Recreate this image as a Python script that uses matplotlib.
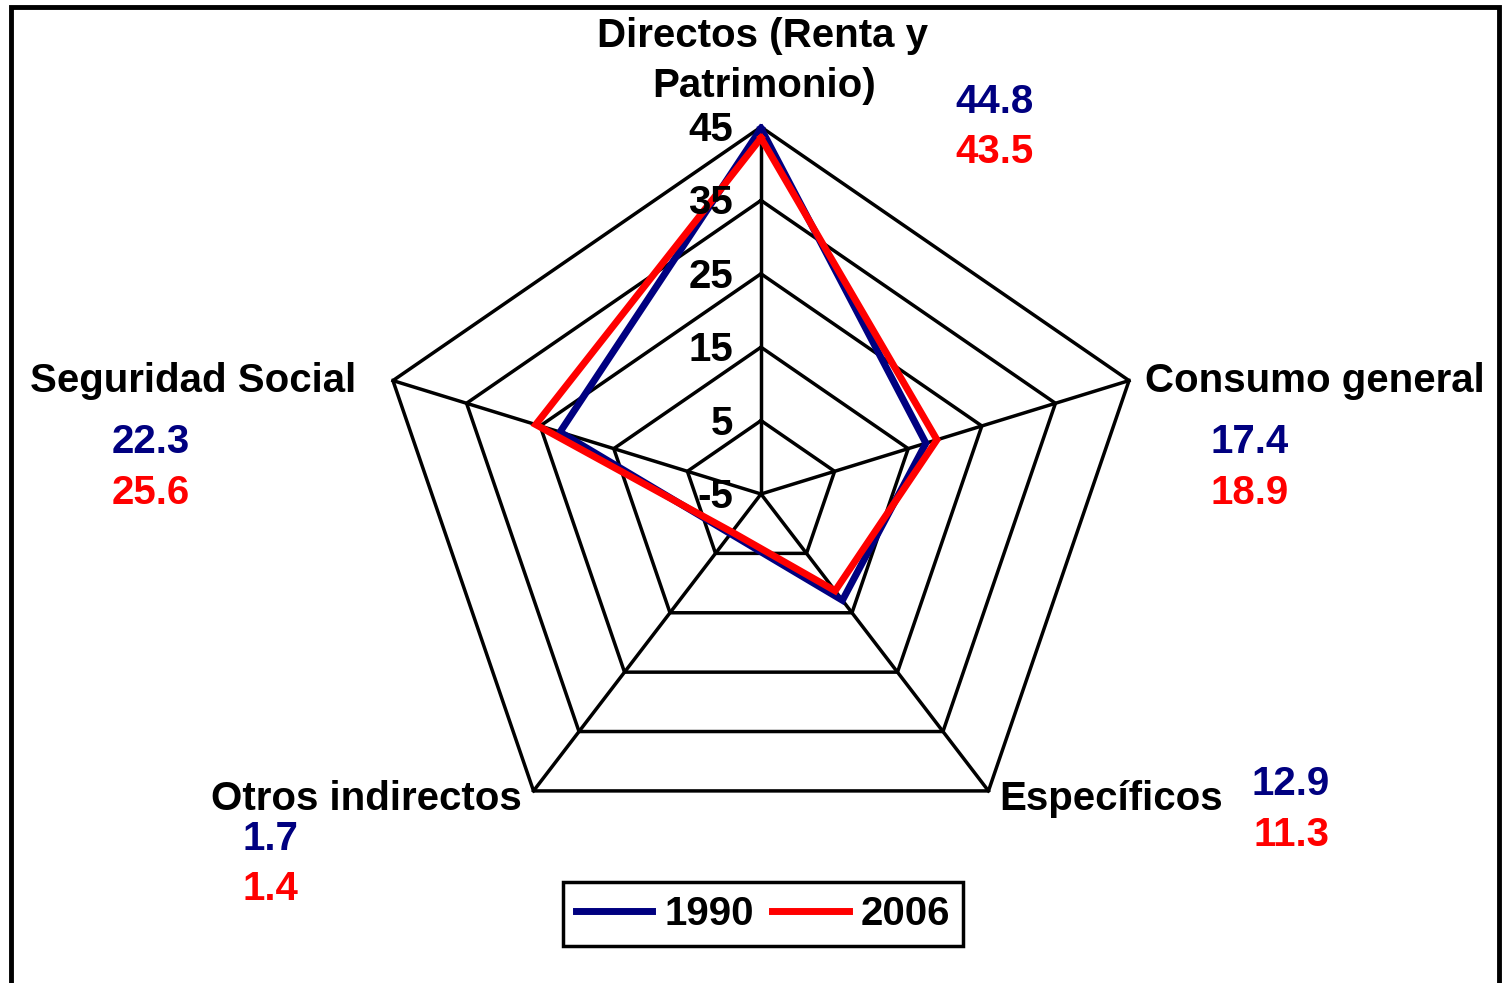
import numpy as np
import matplotlib
matplotlib.use("Agg")
import matplotlib.pyplot as plt
from matplotlib.patches import Rectangle
from matplotlib.lines import Line2D
import matplotlib.transforms as mtransforms

# ---- data ----
categories = ["Directos (Renta y\nPatrimonio)", "Consumo general", "Específicos",
              "Otros indirectos", "Seguridad Social"]
values_1990 = [44.8, 17.4, 12.9, 1.7, 22.3]
values_2006 = [43.5, 18.9, 11.3, 1.4, 25.6]
series_names = ["1990", "2006"]
ring_values = [-5, 5, 15, 25, 35, 45]

NAVY = "#000080"
RED = "#FF0000"
FONT = "Liberation Sans"
FS = 29

W, H = 1505, 983
fig = plt.figure(figsize=(W / 100, H / 100), dpi=100)
fig.patch.set_facecolor("white")

def fx(px):
    return px / W

def fy(py):
    return 1 - py / H

# radar axes: center (761,494), rx 387 px, ry 367 px
cx, cy, rx, ry = 761, 494, 387, 367
ax = fig.add_axes([fx(cx - rx), fy(cy + ry), 2 * rx / W, 2 * ry / H])
vmin, vmax = ring_values[0], ring_values[-1]
R = vmax - vmin
ax.set_xlim(-R, R)
ax.set_ylim(-R, R)
ax.axis("off")

n = len(categories)
theta = 2 * np.pi * np.arange(n) / n

def xy(vals):
    r = np.asarray(vals, dtype=float) - vmin
    x = r * np.sin(theta)
    y = r * np.cos(theta)
    return np.append(x, x[0]), np.append(y, y[0])

# grid rings
for v in ring_values[1:]:
    gx, gy = xy([v] * n)
    ax.plot(gx, gy, color="black", lw=2.5, clip_on=False, zorder=1)
# spokes
for t in theta:
    ax.plot([0, R * np.sin(t)], [0, R * np.cos(t)], color="black", lw=2.5,
            clip_on=False, zorder=1)

# series
x1, y1 = xy(values_1990)
x2, y2 = xy(values_2006)
ax.plot(x1, y1, color=NAVY, lw=5, clip_on=False, zorder=3, solid_joinstyle="miter")
ax.plot(x2, y2, color=RED, lw=5, clip_on=False, zorder=4, solid_joinstyle="miter")

# radial tick labels
tr = mtransforms.offset_copy(ax.transData, fig=fig, x=-28, y=-14, units="dots")
for v in ring_values:
    ax.text(0, v - vmin, f"{v}", transform=tr, ha="right", va="baseline",
            fontsize=FS, fontweight="bold", family=FONT, color="black", zorder=5)

# category labels (pixel positions of text anchors)
def t(px, py, s, color="black", ha="center"):
    fig.text(fx(px), fy(py), s, ha=ha, va="baseline", fontsize=FS,
             fontweight="bold", family=FONT, color=color)

lab = categories[0].split("\n")
t(762, 47, lab[0])
t(764, 97, lab[1])
t(1145, 392, categories[1], ha="left")
t(1111, 810, categories[2])
t(366, 810, categories[3])
t(30, 392, categories[4], ha="left")

# value labels
val_pos = [(994, 113, 163), (1250, 453, 504), (1291, 795, 846),
           (270, 850, 900), (151, 453, 504)]
for i, (px, b1, b2) in enumerate(val_pos):
    t(px, b1, f"{values_1990[i]:.1f}", color=NAVY)
    t(px, b2, f"{values_2006[i]:.1f}", color=RED)

# legend
handles = [Line2D([], [], color=NAVY, lw=5), Line2D([], [], color=RED, lw=5)]
leg = fig.legend(handles, series_names, loc="center",
                 bbox_to_anchor=(fx(763), fy(914)), ncol=2, frameon=True,
                 fancybox=False, edgecolor="black", framealpha=1,
                 prop={"family": FONT, "weight": "bold", "size": FS},
                 handlelength=1.9, handletextpad=0.3, columnspacing=0.45,
                 borderpad=0.32, borderaxespad=0)
leg.get_frame().set_linewidth(2.5)

# outer border
fig.patches.append(Rectangle((fx(11), fy(1000)), fx(1499) - fx(11), fy(7) - fy(1000),
                             transform=fig.transFigure, fill=False,
                             edgecolor="black", lw=3.5))

fig.savefig("out.png", dpi=100, facecolor="white")
